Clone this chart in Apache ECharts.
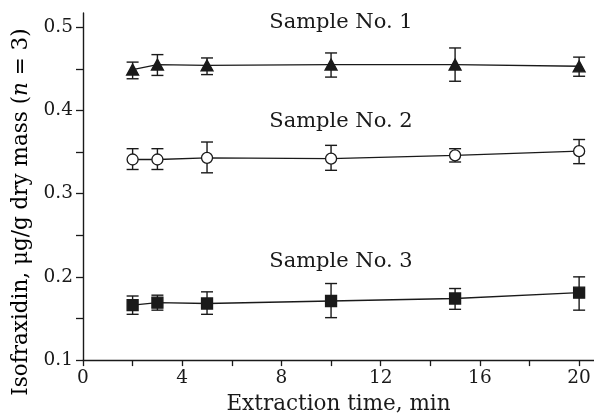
<!DOCTYPE html>
<html>
<head>
<meta charset="utf-8">
<script src="https://cdn.jsdelivr.net/npm/echarts@6/dist/echarts.min.js"></script>
<style>html,body{margin:0;padding:0;background:#fff}#c{width:594px;height:420px}</style>
</head>
<body>
<div id="c"></div>
<script>
var times = [2, 3, 5, 10, 15, 20];
var s1 = [0.449, 0.455, 0.454, 0.455, 0.455, 0.453];
var s1Lo = [0.438, 0.442, 0.443, 0.440, 0.435, 0.441];
var s1Hi = [0.458, 0.467, 0.463, 0.469, 0.475, 0.464];
var s2 = [0.341, 0.341, 0.343, 0.342, 0.346, 0.351];
var s2Lo = [0.329, 0.329, 0.325, 0.328, 0.338, 0.336];
var s2Hi = [0.354, 0.354, 0.362, 0.358, 0.354, 0.365];
var s3 = [0.166, 0.169, 0.168, 0.171, 0.174, 0.181];
var s3Lo = [0.155, 0.160, 0.155, 0.151, 0.161, 0.160];
var s3Hi = [0.177, 0.178, 0.182, 0.192, 0.186, 0.200];
var xTicks = [0, 2, 4, 6, 8, 10, 12, 14, 16, 18, 20];
var xLabels = [0, 4, 8, 12, 16, 20];
var yTicks = [0.1, 0.15, 0.2, 0.25, 0.3, 0.35, 0.4, 0.45, 0.5];
var yLabels = [0.1, 0.2, 0.3, 0.4, 0.5];
var sampleNames = ['Sample No. 1', 'Sample No. 2', 'Sample No. 3'];

var INK = '#1a1a1a';
var FONT = 'DejaVu Serif';

function pairs(v) { return times.map(function (t, i) { return [t, v[i]]; }); }
function errData(lo, hi) { return times.map(function (t, i) { return [t, lo[i], hi[i]]; }); }

function renderErr(params, api) {
  var x = api.value(0), lo = api.value(1), hi = api.value(2);
  var a = api.coord([x, hi]), b = api.coord([x, lo]);
  var w = 6;
  var st = { stroke: INK, lineWidth: 1.4 };
  return { type: 'group', children: [
    { type: 'line', shape: { x1: a[0], y1: a[1], x2: b[0], y2: b[1] }, style: st },
    { type: 'line', shape: { x1: a[0] - w, y1: a[1], x2: a[0] + w, y2: a[1] }, style: st },
    { type: 'line', shape: { x1: b[0] - w, y1: b[1], x2: b[0] + w, y2: b[1] }, style: st }
  ]};
}

function lineSeries(v, symbol, size, fill) {
  return {
    type: 'line', data: pairs(v), symbol: symbol, symbolSize: size, z: 3,
    showAllSymbol: true,
    lineStyle: { color: INK, width: 1.3 },
    itemStyle: { color: fill, borderColor: INK, borderWidth: 1.3, opacity: 1 },
    emphasis: { disabled: true }, animation: false
  };
}
function errSeries(lo, hi) {
  return { type: 'custom', data: errData(lo, hi), renderItem: renderErr, z: 2, animation: false, silent: true };
}
function sampleText(name, x, y) {
  return { type: 'text', x: x, y: y, style: { text: name, fontFamily: FONT, fontSize: 21, fill: INK, textAlign: 'center', textVerticalAlign: 'middle' } };
}

var chart = echarts.init(document.getElementById('c'), null, { renderer: 'canvas' });
chart.setOption({
  backgroundColor: '#fff',
  animation: false,
  grid: { left: 83, right: 0, top: 13, bottom: 57, containLabel: false },
  xAxis: {
    type: 'value', min: 0, max: 20.6,
    name: 'Extraction time, min', nameLocation: 'middle', nameGap: 29,
    nameTextStyle: { fontFamily: FONT, fontSize: 21.5, color: INK },
    axisLine: { lineStyle: { color: INK, width: 1.4 } },
    axisTick: { show: true, length: 6, inside: false, customValues: xTicks, lineStyle: { color: INK, width: 1.3 } },
    axisLabel: { customValues: xLabels, fontFamily: FONT, fontSize: 18.5, color: INK, margin: 9 },
    splitLine: { show: false }
  },
  yAxis: {
    type: 'value', min: 0.1, max: 0.517,
    axisLine: { show: true, lineStyle: { color: INK, width: 1.4 } },
    axisTick: { show: true, length: 7, inside: false, customValues: yTicks, lineStyle: { color: INK, width: 1.3 } },
    axisLabel: { customValues: yLabels, fontFamily: FONT, fontSize: 18.5, color: INK, margin: 10,
      formatter: function (v) { return v.toFixed(1); } },
    splitLine: { show: false }
  },
  graphic: [
    sampleText(sampleNames[0], 341, 23),
    sampleText(sampleNames[1], 341, 122),
    sampleText(sampleNames[2], 341, 262),
    { type: 'text', x: 21, y: 212, rotation: Math.PI / 2,
      style: { text: '{r|Isofraxidin, μg/g dry mass (}{i|n}{r| = 3)}', textAlign: 'center', textVerticalAlign: 'middle',
        rich: { r: { fontFamily: FONT, fontSize: 21.5, color: INK }, i: { fontFamily: FONT, fontSize: 21.5, fontStyle: 'italic', color: INK } } } }
  ],
  series: [
    errSeries(s1Lo, s1Hi), lineSeries(s1, 'triangle', [12, 11], INK),
    errSeries(s2Lo, s2Hi), lineSeries(s2, 'circle', 11, '#fff'),
    errSeries(s3Lo, s3Hi), lineSeries(s3, 'rect', 11, INK)
  ]
});
</script>
</body>
</html>
